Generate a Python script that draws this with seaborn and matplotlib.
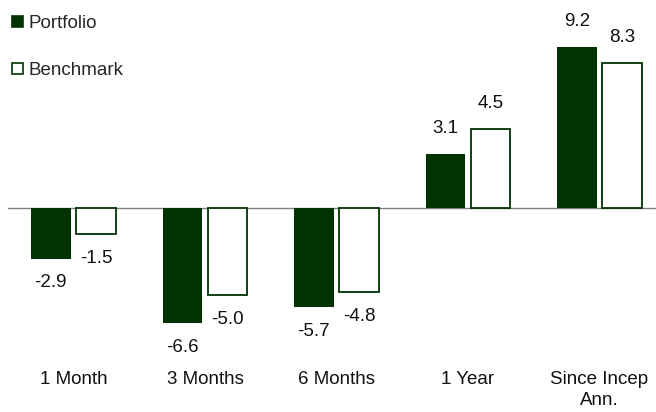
import matplotlib
matplotlib.use("Agg")
import matplotlib.pyplot as plt
import seaborn as sns
import pandas as pd
from matplotlib.patches import Patch

categories = ["1 Month", "3 Months", "6 Months", "1 Year", "Since Incep\nAnn."]
portfolio = [-2.9, -6.6, -5.7, 3.1, 9.2]
benchmark = [-1.5, -5.0, -4.8, 4.5, 8.3]
series = ["Portfolio", "Benchmark"]

GREEN = "#003300"
FS = 13.5

df = pd.DataFrame({
    "category": categories * 2,
    "value": portfolio + benchmark,
    "series": [series[0]] * len(categories) + [series[1]] * len(categories),
})

sns.set_theme(style="white")
plt.rcParams["font.family"] = ["Liberation Sans", "DejaVu Sans"]

fig = plt.figure(figsize=(6.56, 4.12), dpi=100)
W, H = 656, 412
ax = fig.add_axes([7.75 / W, 0, 657.5 / W, 1])

sns.barplot(data=df, x="category", y="value", hue="series", order=categories,
            hue_order=series, palette=[GREEN, "white"], width=0.69, gap=0.13,
            ax=ax, legend=False, errorbar=None, saturation=1)

for bar in ax.containers[0]:
    bar.set_facecolor(GREEN)
    bar.set_edgecolor("none")
for bar in ax.containers[1]:
    bar.set_facecolor("white")
    bar.set_edgecolor(GREEN)
    bar.set_linewidth(1.3)

px = 17.45
ax.set_ylim(-(H - 208) / px, 208 / px)
ax.set_xlim(-0.5, 4.5)
ax.axhline(0, color="#808080", lw=1.0, zorder=0.5)

for cont, vals in zip(ax.containers, [portfolio, benchmark]):
    for bar, v in zip(cont, vals):
        xc = bar.get_x() + bar.get_width() / 2
        off = 18.5 if v >= 0 else -17.5
        ax.annotate(f"{v:.1f}", (xc, v), xytext=(0, off), textcoords="offset points",
                    ha="center", va="center", fontsize=FS, color="#111111")

for i, c in enumerate(categories):
    for j, line in enumerate(c.split("\n")):
        ax.text(i, (208 - 379 - 21 * j) / px, line, ha="center", va="center",
                fontsize=FS, color="#111111")

ax.set_axis_off()

handles = [Patch(facecolor=GREEN, edgecolor=GREEN, lw=1.2),
           Patch(facecolor="white", edgecolor=GREEN, lw=1.2)]
fig.legend(handles, series, loc="upper left", bbox_to_anchor=(0.0, 0.993),
           frameon=False, fontsize=FS, handlelength=0.55, handleheight=0.55,
           handletextpad=0.3, labelspacing=1.6, borderaxespad=0.25)

fig.savefig("out.png", dpi=100)
